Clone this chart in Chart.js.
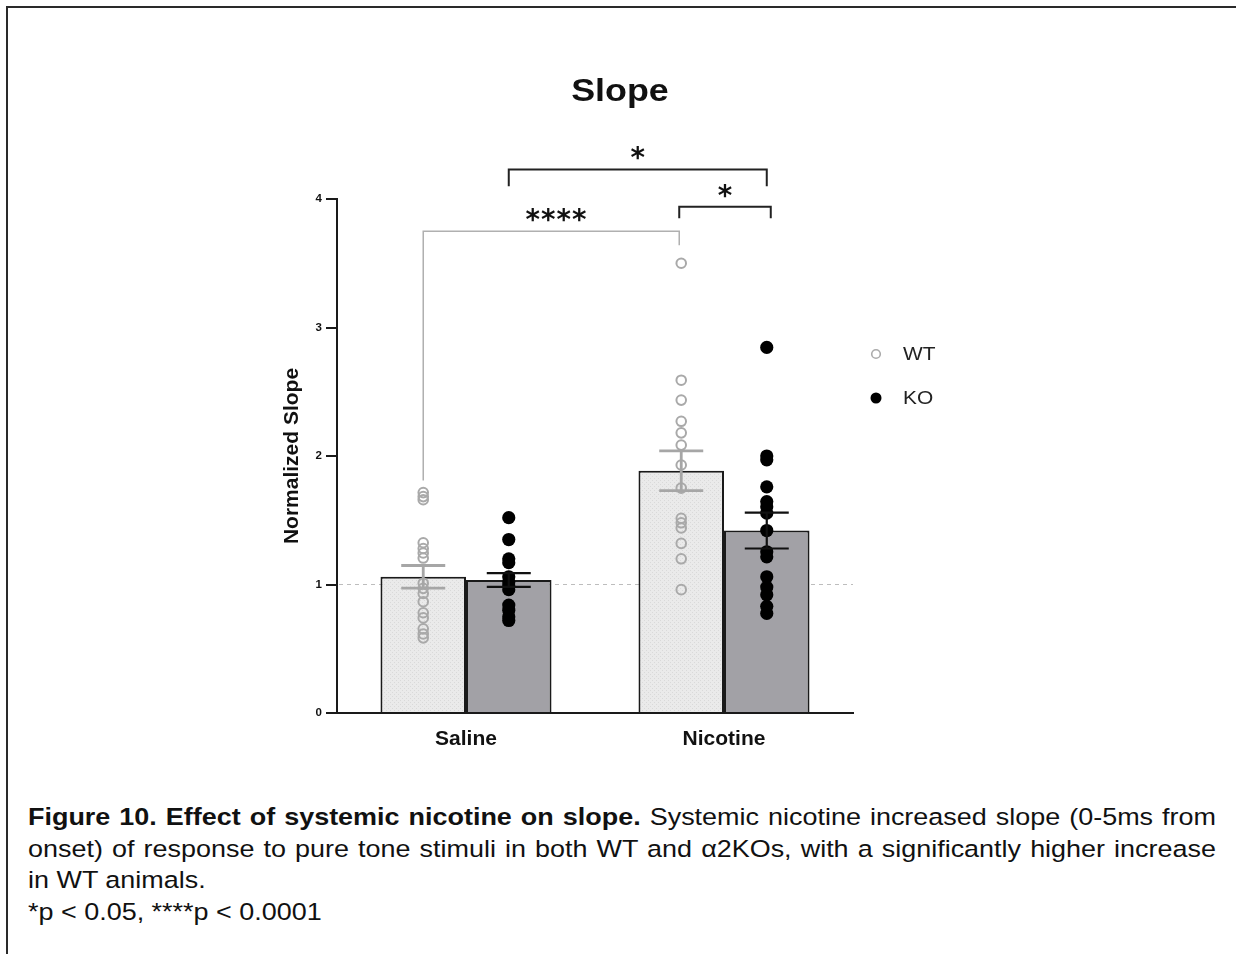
<!DOCTYPE html>
<html>
<head>
<meta charset="utf-8">
<script src="https://cdn.jsdelivr.net/npm/chart.js@4.4.0/dist/chart.umd.min.js"></script>
<style>
html,body{margin:0;padding:0;background:#fff;width:1236px;height:954px;overflow:hidden;}
#frame{position:absolute;left:6px;top:6px;width:1250px;height:970px;border-top:2.5px solid #2a2a2a;border-left:2.5px solid #2a2a2a;}
canvas{position:absolute;left:0;top:0;}
#caption{position:absolute;left:28px;top:801px;width:1080px;font-family:'Liberation Sans',Arial,sans-serif;font-size:24.5px;line-height:31.5px;color:#111;transform:scaleX(1.1);transform-origin:0 0;}
.j{text-align:justify;text-align-last:justify;}
</style>
</head>
<body>
<div id="frame"></div>
<canvas id="bars" width="1236" height="780"></canvas>
<canvas id="dots" width="1236" height="780"></canvas>
<div id="caption">
<div class="j"><b>Figure 10. Effect of systemic nicotine on slope.</b> Systemic nicotine increased slope (0-5ms from</div>
<div class="j">onset) of response to pure tone stimuli in both WT and α2KOs, with a significantly higher increase</div>
<div>in WT animals.</div>
<div>*p &lt; 0.05, ****p &lt; 0.0001</div>
</div>
<script>
// ---------------- data ----------------
const categories = ['Saline', 'Nicotine'];
const seriesNames = ['WT', 'KO'];
const wtMeans = [1.06, 1.885];
const koMeans = [1.035, 1.42];
const wtSem = [0.088, 0.155];
const koSem = [0.053, 0.14];
const wtSaline = [1.715, 1.684, 1.66, 1.325, 1.28, 1.245, 1.206, 1.01, 0.97, 0.93, 0.866, 0.78, 0.74, 0.655, 0.615, 0.585];
const wtNicotine = [3.5, 2.59, 2.435, 2.27, 2.18, 2.085, 1.93, 1.75, 1.515, 1.48, 1.44, 1.32, 1.2, 0.96];
const koSaline = [1.52, 1.35, 1.2, 1.17, 1.06, 1.02, 0.99, 0.96, 0.84, 0.80, 0.75, 0.72];
const koNicotine = [2.845, 2.0, 1.97, 1.76, 1.645, 1.605, 1.555, 1.42, 1.255, 1.215, 1.06, 0.98, 0.92, 0.83, 0.775];
const yTickValues = [0, 1, 2, 3, 4];
const referenceValue = 1;
const sigLabels = ['****', '*', '*'];

// ---------------- layout / style ----------------
const FONT = "'Liberation Sans', Arial, sans-serif";
const CAT_PCT = 0.663;
const OFF = CAT_PCT / 4;
const PAD = {left: 277, right: 383, top: 199, bottom: 17};
const Y_W = 60, X_H = 50;

const barCtx = document.getElementById('bars').getContext('2d');
const dotCtx = document.getElementById('dots').getContext('2d');

// dotted pattern for WT bars
const pc = document.createElement('canvas');
pc.width = 4; pc.height = 4;
const px = pc.getContext('2d');
px.fillStyle = '#eaeaea'; px.fillRect(0, 0, 4, 4);
px.fillStyle = '#d9d9d9'; px.fillRect(0, 0, 1, 1); px.fillRect(2, 2, 1, 1);
const wtPattern = barCtx.createPattern(pc, 'repeat');

function pts(groups, off) {
  const out = [];
  groups.forEach((arr, i) => arr.forEach(v => out.push({x: i + off, y: v})));
  return out;
}

const refLinePlugin = {
  id: 'refLine',
  beforeDatasetsDraw(chart) {
    const {ctx, chartArea, scales} = chart;
    const y = scales.y.getPixelForValue(referenceValue);
    ctx.save();
    ctx.strokeStyle = '#bdbdbd';
    ctx.lineWidth = 1;
    ctx.setLineDash([4, 4]);
    ctx.beginPath();
    ctx.moveTo(chartArea.left + 2, y);
    ctx.lineTo(chartArea.right, y);
    ctx.stroke();
    ctx.restore();
  }
};

// ---------------- chart 1: bars + axes ----------------
const barChart = new Chart(barCtx, {
  type: 'bar',
  data: {
    labels: categories,
    datasets: [
      {label: seriesNames[0], data: wtMeans, backgroundColor: wtPattern, borderColor: '#1a1a1a',
       borderWidth: 2, borderSkipped: 'bottom', categoryPercentage: CAT_PCT, barPercentage: 1},
      {label: seriesNames[1], data: koMeans, backgroundColor: '#a2a1a6', borderColor: '#1a1a1a',
       borderWidth: 2, borderSkipped: 'bottom', categoryPercentage: CAT_PCT, barPercentage: 1}
    ]
  },
  options: {
    responsive: false,
    animation: false,
    events: [],
    layout: {padding: PAD},
    plugins: {legend: {display: false}, title: {display: false}, tooltip: {enabled: false}},
    scales: {
      x: {
        type: 'category', offset: true,
        grid: {display: false, drawTicks: false, drawOnChartArea: false},
        border: {display: true, color: '#1a1a1a', width: 2},
        ticks: {color: '#111', font: {family: FONT, weight: 'bold', size: 21}, padding: 14},
        afterFit: s => { s.height = X_H; }
      },
      y: {
        min: 0, max: 4,
        afterBuildTicks: s => { s.ticks = yTickValues.map(v => ({value: v})); },
        ticks: {color: '#111', font: {family: FONT, weight: 'bold', size: 11.5}, padding: 4},
        grid: {drawOnChartArea: false, drawTicks: true, tickLength: 11, color: '#1a1a1a', lineWidth: 2},
        border: {display: true, color: '#1a1a1a', width: 2},
        title: {display: true, text: 'Normalized Slope', color: '#111', font: {family: FONT, weight: 'bold', size: 21}, padding: {top: 3, bottom: 0}},
        afterFit: s => { s.width = Y_W; }
      }
    }
  },
  plugins: [refLinePlugin]
});

// ---------------- chart 2: points, error bars, annotations ----------------
const errorBarPlugin = {
  id: 'errBars',
  afterDatasetsDraw(chart) {
    const {ctx, scales} = chart;
    const specs = [
      {ds: 0, means: wtMeans, sem: wtSem, color: '#a6a6a6', lw: 2.8},
      {ds: 1, means: koMeans, sem: koSem, color: '#111', lw: 2.2}
    ];
    ctx.save();
    specs.forEach(s => {
      const meta = barChart.getDatasetMeta(s.ds);
      meta.data.forEach((el, i) => {
        const x = el.x;
        const yt = scales.y.getPixelForValue(s.means[i] + s.sem[i]);
        const yb = scales.y.getPixelForValue(s.means[i] - s.sem[i]);
        ctx.strokeStyle = s.color;
        ctx.lineWidth = s.lw;
        ctx.beginPath();
        ctx.moveTo(x, yt); ctx.lineTo(x, yb);
        ctx.moveTo(x - 22, yt); ctx.lineTo(x + 22, yt);
        ctx.moveTo(x - 22, yb); ctx.lineTo(x + 22, yb);
        ctx.stroke();
      });
    });
    ctx.restore();
  }
};

function drawStars(ctx, text, cx, cy, glyphH, spacing) {
  const F = "'DejaVu Sans', sans-serif";
  ctx.save();
  ctx.font = "bold 100px " + F;
  const m = ctx.measureText('*');
  const h = m.actualBoundingBoxAscent + m.actualBoundingBoxDescent;
  const size = glyphH * 100 / h;
  ctx.font = "bold " + size + "px " + F;
  const m2 = ctx.measureText('*');
  const asc = m2.actualBoundingBoxAscent, desc = m2.actualBoundingBoxDescent;
  const baseline = cy + (asc - desc) / 2;
  ctx.textAlign = 'center';
  ctx.textBaseline = 'alphabetic';
  ctx.fillStyle = '#111';
  const n = text.length;
  for (let k = 0; k < n; k++) {
    const x = cx + (k - (n - 1) / 2) * spacing;
    ctx.fillText('*', x, baseline);
  }
  ctx.restore();
}

const annotationPlugin = {
  id: 'annot',
  afterDraw(chart) {
    const {ctx, scales, chartArea} = chart;
    const y = scales.y;
    const wt = barChart.getDatasetMeta(0).data;
    const ko = barChart.getDatasetMeta(1).data;
    const brackets = [
      {x1: wt[0].x, x2: wt[1].x - 2, top: 3.75, e1: 1.81, e2: 3.64, color: '#b0b0b0', lw: 1.5, label: sigLabels[0], lx: 556},
      {x1: ko[0].x, x2: ko[1].x, top: 4.23, e1: 4.10, e2: 4.10, color: '#222', lw: 2, label: sigLabels[1]},
      {x1: wt[1].x - 2, x2: ko[1].x + 4, top: 3.94, e1: 3.85, e2: 3.85, color: '#222', lw: 2, label: sigLabels[2]}
    ];
    ctx.save();
    brackets.forEach(b => {
      const yt = y.getPixelForValue(b.top);
      ctx.strokeStyle = b.color;
      ctx.lineWidth = b.lw;
      ctx.beginPath();
      ctx.moveTo(b.x1, y.getPixelForValue(b.e1));
      ctx.lineTo(b.x1, yt);
      ctx.lineTo(b.x2, yt);
      ctx.lineTo(b.x2, y.getPixelForValue(b.e2));
      ctx.stroke();
      const lx = b.lx !== undefined ? b.lx : (b.x1 + b.x2) / 2;
      drawStars(ctx, b.label, lx, yt - 16, 13, 15.5);
    });

    // title
    ctx.save();
    ctx.translate(620, 92);
    ctx.scale(1.12, 1);
    ctx.font = "bold 32px " + FONT;
    ctx.fillStyle = '#111';
    ctx.textAlign = 'center';
    ctx.textBaseline = 'middle';
    ctx.fillText('Slope', 0, 0);
    ctx.restore();

    // legend
    const lx = chartArea.right + 23;
    const items = [
      {name: seriesNames[0], y: 354, r: 4.3, fill: 'rgba(255,255,255,0)', stroke: '#ababab', lw: 1.6},
      {name: seriesNames[1], y: 398, r: 5.5, fill: '#000', stroke: '#000', lw: 0}
    ];
    items.forEach(it => {
      ctx.beginPath();
      ctx.arc(lx, it.y, it.r, 0, Math.PI * 2);
      ctx.fillStyle = it.fill; ctx.fill();
      if (it.lw) { ctx.strokeStyle = it.stroke; ctx.lineWidth = it.lw; ctx.stroke(); }
      ctx.save();
      ctx.translate(lx + 27, it.y);
      ctx.scale(1.1, 1);
      ctx.font = "19px " + FONT;
      ctx.fillStyle = '#222';
      ctx.textAlign = 'left';
      ctx.textBaseline = 'middle';
      ctx.fillText(it.name, 0, 1);
      ctx.restore();
    });
    ctx.restore();
  }
};

new Chart(dotCtx, {
  type: 'scatter',
  data: {
    datasets: [
      {label: seriesNames[0] + ' points', data: pts([wtSaline, wtNicotine], -OFF),
       pointRadius: 4.8, pointBorderWidth: 2, pointBorderColor: '#a9a9a9', pointBackgroundColor: 'rgba(255,255,255,0)', order: 2},
      {label: seriesNames[1] + ' points', data: pts([koSaline, koNicotine], OFF),
       pointRadius: 6.6, pointBorderWidth: 0, pointBorderColor: '#000', pointBackgroundColor: '#000', order: 1}
    ]
  },
  options: {
    responsive: false,
    animation: false,
    events: [],
    layout: {padding: {left: PAD.left + Y_W, right: PAD.right, top: PAD.top, bottom: PAD.bottom + X_H}},
    plugins: {legend: {display: false}, title: {display: false}, tooltip: {enabled: false}},
    scales: {
      x: {type: 'linear', min: -0.5, max: 1.5, offset: false, display: false},
      y: {type: 'linear', min: 0, max: 4, display: false}
    }
  },
  plugins: [errorBarPlugin, annotationPlugin]
});
</script>
</body>
</html>
